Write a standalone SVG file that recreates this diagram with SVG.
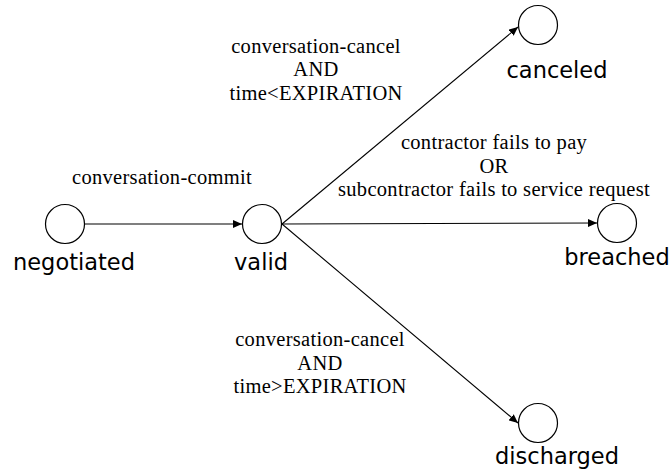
<svg xmlns="http://www.w3.org/2000/svg" width="671" height="473" viewBox="0 0 671 473">
<style>
.st{fill:#fff;stroke:#000;stroke-width:1.2}
.nl{font-family:"DejaVu Sans",Verdana,sans-serif;font-size:22.5px;fill:#000;text-anchor:middle}
.el{font-family:"Liberation Serif","Times New Roman",serif;font-size:20.5px;letter-spacing:0.3px;fill:#000;text-anchor:middle}
.cn{stroke:#000;stroke-width:1.1;fill:none;marker-end:url(#ah)}
</style>
<defs>
<marker id="ah" markerWidth="10" markerHeight="8" refX="9" refY="4" orient="auto" markerUnits="userSpaceOnUse">
<path d="M0,0 L9,4 L0,8 Z" fill="#000"/>
</marker>
</defs>
<rect width="671" height="473" fill="#fff"/>
<g id="connectors">
<line class="cn" x1="85" y1="224" x2="242" y2="224"/>
<line class="cn" x1="282" y1="224" x2="518" y2="27"/>
<line class="cn" x1="282" y1="224" x2="597" y2="223"/>
<line class="cn" x1="282" y1="224" x2="518" y2="423"/>
<text class="el" x="162" y="184">conversation-commit</text>
<text class="el" x="316" y="53">conversation-cancel</text>
<text class="el" x="316" y="76">AND</text>
<text class="el" x="316" y="100">time&lt;EXPIRATION</text>
<text class="el" x="494" y="149">contractor fails to pay</text>
<text class="el" x="494" y="173">OR</text>
<text class="el" x="494" y="196">subcontractor fails to service request</text>
<text class="el" x="320" y="346">conversation-cancel</text>
<text class="el" x="320" y="370">AND</text>
<text class="el" x="320" y="393">time&gt;EXPIRATION</text>
</g>
<g id="negotiated">
<circle class="st" cx="65" cy="224" r="19.5"/>
<text class="nl" x="74" y="270">negotiated</text>
</g>
<g id="valid">
<circle class="st" cx="262" cy="224" r="19.5"/>
<text class="nl" x="261" y="270">valid</text>
</g>
<g id="canceled">
<circle class="st" cx="538" cy="25" r="19.5"/>
<text class="nl" x="557" y="78">canceled</text>
</g>
<g id="breached">
<circle class="st" cx="617" cy="223" r="19.5"/>
<text class="nl" x="617" y="265">breached</text>
</g>
<g id="discharged">
<circle class="st" cx="538" cy="423" r="19.5"/>
<text class="nl" x="557" y="464">discharged</text>
</g>
</svg>
